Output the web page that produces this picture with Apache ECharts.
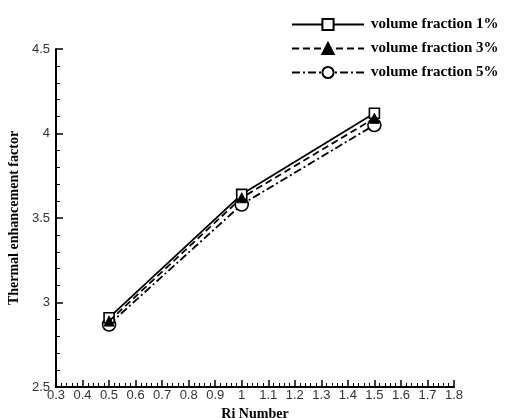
<!DOCTYPE html>
<html>
<head>
<meta charset="utf-8">
<script src="https://cdn.jsdelivr.net/npm/echarts@6/dist/echarts.min.js"></script>
<style>
  html, body { margin: 0; padding: 0; background: #fff; }
  #chart { width: 505px; height: 418px; }
</style>
</head>
<body>
<div id="chart"></div>
<script>
// Richardson number values on the x axis
const riNumbers = [0.5, 1.0, 1.5];

// Thermal enhancement factor for each nanofluid volume fraction
const fraction1 = [2.91, 3.64, 4.12];
const fraction3 = [2.89, 3.62, 4.09];
const fraction5 = [2.87, 3.58, 4.05];

const seriesNames = ['volume fraction 1%', 'volume fraction 3%', 'volume fraction 5%'];

const pairs = (xs, ys) => xs.map((x, i) => [x, ys[i]]);

const serifBold = { fontFamily: 'Liberation Serif', fontWeight: 'bold', color: '#000' };

const chart = echarts.init(document.getElementById('chart'));

chart.setOption({
  animation: false,
  backgroundColor: '#fff',
  grid: { left: 56, right: 51, top: 49, bottom: 31, outerBoundsMode: 'none' },
  legend: {
    orient: 'vertical',
    left: 286,
    top: 12,
    itemWidth: 72,
    itemHeight: 14,
    itemGap: 9,
    textStyle: Object.assign({ fontSize: 15, padding: [0, 0, 0, 2] }, serifBold),
    data: seriesNames
  },
  xAxis: {
    type: 'value',
    min: 0.3,
    max: 1.8,
    interval: 0.1,
    name: 'Ri Number',
    nameLocation: 'middle',
    nameGap: 13,
    nameTextStyle: Object.assign({ fontSize: 14 }, serifBold),
    axisLine: { onZero: false, lineStyle: { color: '#000', width: 2 } },
    axisTick: { inside: true, length: 7, lineStyle: { color: '#000', width: 1.5 } },
    minorTick: { show: true, splitNumber: 5, length: 4, lineStyle: { color: '#000', width: 1 } },
    axisLabel: {
      margin: 2,
      fontFamily: 'Liberation Sans',
      fontSize: 13,
      color: '#333',
      formatter: v => String(Number(v.toFixed(1)))
    },
    splitLine: { show: false }
  },
  yAxis: {
    type: 'value',
    min: 2.5,
    max: 4.5,
    interval: 0.5,
    name: 'Thermal enhancement factor',
    nameLocation: 'middle',
    nameGap: 30,
    nameTextStyle: Object.assign({ fontSize: 14 }, serifBold),
    axisLine: { lineStyle: { color: '#000', width: 2 } },
    axisTick: { inside: true, length: 7, lineStyle: { color: '#000', width: 1.5 } },
    minorTick: { show: true, splitNumber: 5, length: 4, lineStyle: { color: '#000', width: 1 } },
    axisLabel: {
      margin: 6,
      fontFamily: 'Liberation Sans',
      fontSize: 13,
      color: '#333',
      formatter: v => String(Number(v.toFixed(1)))
    },
    splitLine: { show: false }
  },
  series: [
    {
      name: seriesNames[0],
      type: 'line',
      data: pairs(riNumbers, fraction1),
      symbol: 'rect',
      symbolSize: 10,
      itemStyle: { color: '#fff', borderColor: '#000', borderWidth: 1.6 },
      lineStyle: { color: '#000', width: 1.8, type: 'solid' },
      z: 3
    },
    {
      name: seriesNames[1],
      type: 'line',
      data: pairs(riNumbers, fraction3),
      symbol: 'triangle',
      symbolSize: 10,
      itemStyle: { color: '#000', borderColor: '#000', borderWidth: 1 },
      lineStyle: { color: '#000', width: 1.8, type: [7, 4] },
      z: 4
    },
    {
      name: seriesNames[2],
      type: 'line',
      data: pairs(riNumbers, fraction5),
      symbol: 'circle',
      symbolSize: 13,
      itemStyle: { color: '#fff', borderColor: '#000', borderWidth: 1.6 },
      lineStyle: { color: '#000', width: 1.8, type: [8, 3, 2, 3] },
      z: 2
    }
  ]
});
</script>
</body>
</html>
